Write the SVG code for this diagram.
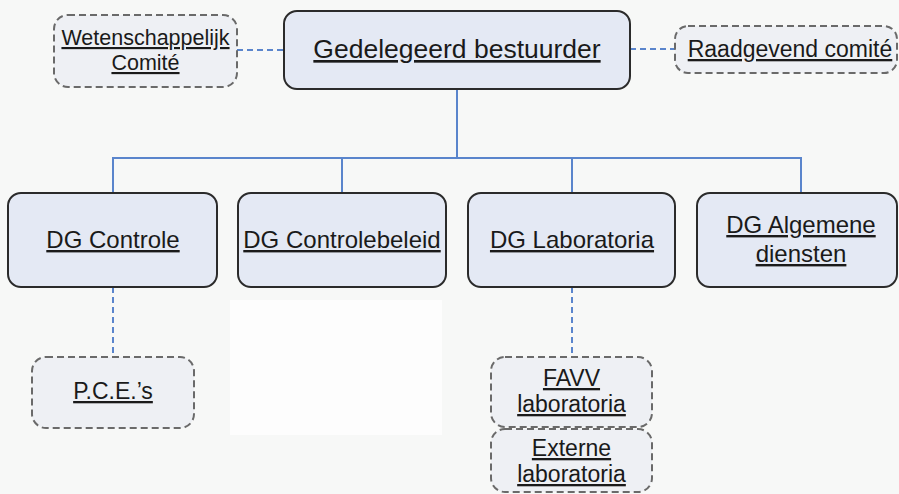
<svg xmlns="http://www.w3.org/2000/svg" width="899" height="494" viewBox="0 0 899 494">
<defs>
<style>
text{font-family:"Liberation Sans",Arial,sans-serif;fill:#1a1a1a;text-anchor:middle;text-decoration:underline}
.main{fill:#e4e9f4;stroke:#2b2b2b;stroke-width:2}
.aux{fill:#eef0f4;stroke:#6a6a6a;stroke-width:2;stroke-dasharray:7 4}
.solid{stroke:#5a85cc;stroke-width:2;fill:none}
.dash{stroke:#5a85cc;stroke-width:2;fill:none;stroke-dasharray:6 4}
</style>
</defs>
<rect width="899" height="494" fill="#f7f8f7"/>
<rect x="230" y="300" width="212" height="135" fill="#fdfdfd"/>
<g id="connectors">
<line class="dash" x1="237" y1="50" x2="284" y2="50"/>
<line class="dash" x1="630" y1="49" x2="675" y2="49"/>
<polyline class="solid" points="457,89 457,158"/>
<polyline class="solid" points="113,193 113,158 801,158 801,193"/>
<line class="solid" x1="342" y1="158" x2="342" y2="193"/>
<line class="solid" x1="572" y1="158" x2="572" y2="193"/>
<line class="dash" x1="113" y1="287" x2="113" y2="357"/>
<line class="dash" x1="572" y1="287" x2="572" y2="357"/>
</g>
<g id="gedelegeerd">
<rect class="main" x="284" y="11" width="346" height="78" rx="13"/>
<text x="457" y="58" font-size="26.5">Gedelegeerd bestuurder</text>
</g>
<g id="wetenschappelijk">
<rect class="aux" x="54" y="15" width="183" height="72" rx="14"/>
<text x="145.5" y="45" font-size="21.5">Wetenschappelijk</text>
<text x="145.5" y="70" font-size="21.5">Comité</text>
</g>
<g id="raadgevend">
<rect class="aux" x="675" y="26" width="222" height="47" rx="13"/>
<text x="790" y="57" font-size="23">Raadgevend comité</text>
</g>
<g id="dg-controle">
<rect class="main" x="8" y="193" width="209" height="94" rx="13"/>
<text x="113" y="248" font-size="24">DG Controle</text>
</g>
<g id="dg-controlebeleid">
<rect class="main" x="238" y="193" width="208" height="94" rx="13"/>
<text x="342" y="248" font-size="24">DG Controlebeleid</text>
</g>
<g id="dg-laboratoria">
<rect class="main" x="468" y="193" width="207" height="94" rx="13"/>
<text x="572" y="248" font-size="24">DG Laboratoria</text>
</g>
<g id="dg-algemene">
<rect class="main" x="697" y="193" width="200" height="94" rx="13"/>
<text x="801" y="233" font-size="24">DG Algemene</text>
<text x="801" y="262" font-size="24">diensten</text>
</g>
<g id="pce">
<rect class="aux" x="32" y="357" width="162" height="71" rx="14"/>
<text x="113" y="399" font-size="23">P.C.E.’s</text>
</g>
<g id="favv">
<rect class="aux" x="491" y="357" width="161" height="70" rx="14"/>
<text x="571.5" y="386" font-size="23">FAVV</text>
<text x="571.5" y="412" font-size="23">laboratoria</text>
</g>
<g id="externe">
<rect class="aux" x="491" y="429" width="161" height="63" rx="14"/>
<text x="571.5" y="456" font-size="23">Externe</text>
<text x="571.5" y="482" font-size="23">laboratoria</text>
</g>
</svg>
